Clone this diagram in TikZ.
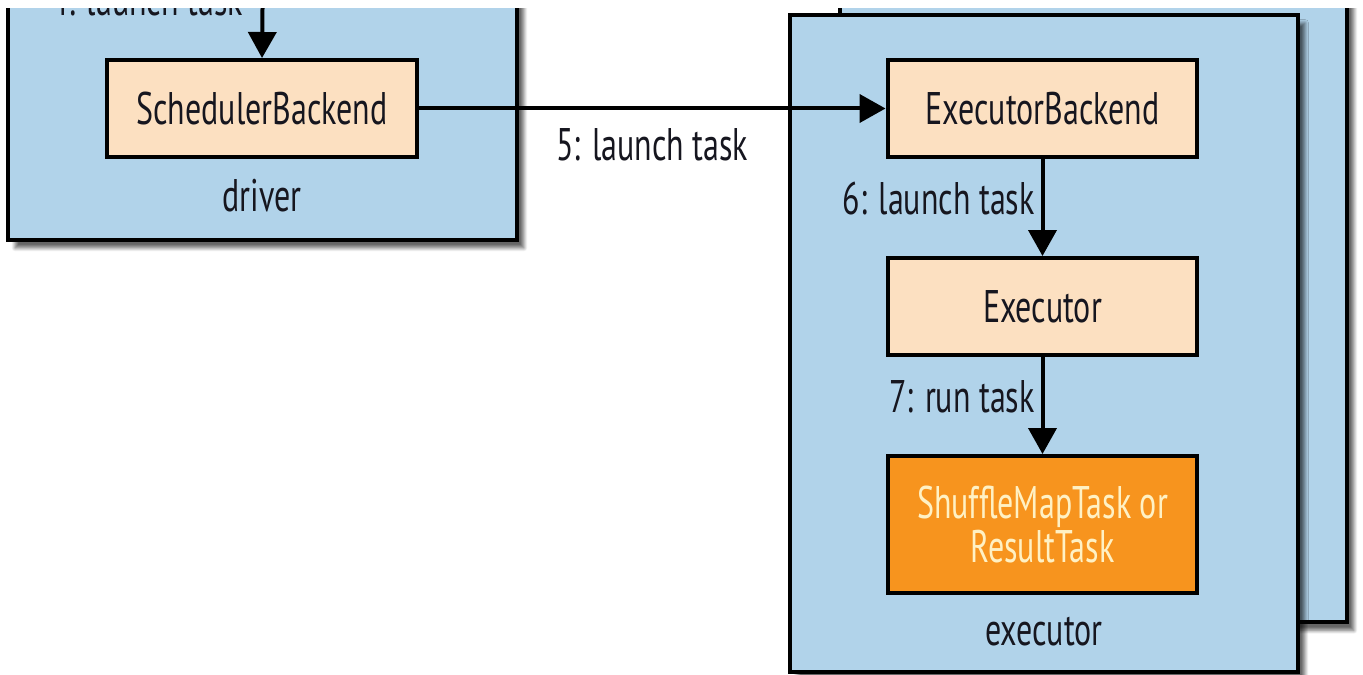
\documentclass[tikz,border=0pt]{standalone}
\usepackage{fontspec}
\setmainfont[FakeStretch=0.70]{PT Sans}
\usepackage{tikz}
\usetikzlibrary{arrows.meta,positioning,shadows.blur}
\definecolor{spblue}{HTML}{B1D3EA}
\definecolor{sppeach}{HTML}{FCE0C1}
\definecolor{sporange}{HTML}{F7941E}
\definecolor{spcream}{HTML}{FFF1C4}
\definecolor{spink}{HTML}{16161F}

\begin{document}
\begin{tikzpicture}[x=0.02cm,y=-0.02cm,font=\fontsize{26}{25.5}\selectfont,text=spink,
  >={Triangle[width=0.56cm,length=0.52cm]},
  hostbox/.style={draw=black,line width=0.08cm,fill=spblue,
    blur shadow={shadow xshift=0.14cm,shadow yshift=-0.16cm,shadow blur steps=10,shadow opacity=60}},
  compbox/.style={draw=black,line width=0.08cm,fill=sppeach,minimum width=6.2cm,minimum height=1.94cm},
  flow/.style={->,line width=0.08cm}]
  \useasboundingbox (0,0) rectangle (1363,675);
  \clip (0,9) rectangle (1363,700);
  % driver side
  \node[hostbox,minimum width=10.18cm,minimum height=5.6cm] (driver) at (262.5,100) {};
  \node[compbox] (sched) at (262,108.5) {SchedulerBackend};
  \node (driverlbl) at (262,196) {driver};
  \coordinate (fromtop) at (263,-40);
  \node[anchor=base east] (launchfour) at (249,16) {4: launch task};
  \draw[flow] (fromtop) -- (sched.north);
  % executors (one behind the other)
  \node[hostbox,minimum width=10.14cm,minimum height=13.3cm] (execback) at (1093.5,290) {};
  \node[hostbox,minimum width=10.16cm,minimum height=13.14cm] (exec) at (1044,343.5) {};
  \node[compbox] (ebackend) at (1042.5,108.5) {ExecutorBackend};
  \node[compbox] (executor) at (1042.5,306.5) {Executor};
  \node[compbox,fill=sporange,text=spcream,minimum height=2.74cm,align=center] (task) at (1042.5,524.5) {ShuffleMapTask or\\ResultTask};
  \node (execlbl) at (1044,632) {executor};
  % task flow
  \draw[flow] (sched.east) -- (ebackend.west) node[pos=0.5,yshift=-0.72cm] (launchfive) {5: launch task};
  \draw[flow] (ebackend.south) -- (executor.north) node[midway,left,yshift=0.18cm] (launchsix) {6: launch task};
  \draw[flow] (executor.south) -- (task.north) node[midway,left,yshift=0.18cm] (runseven) {7: run task};
\end{tikzpicture}
\end{document}
